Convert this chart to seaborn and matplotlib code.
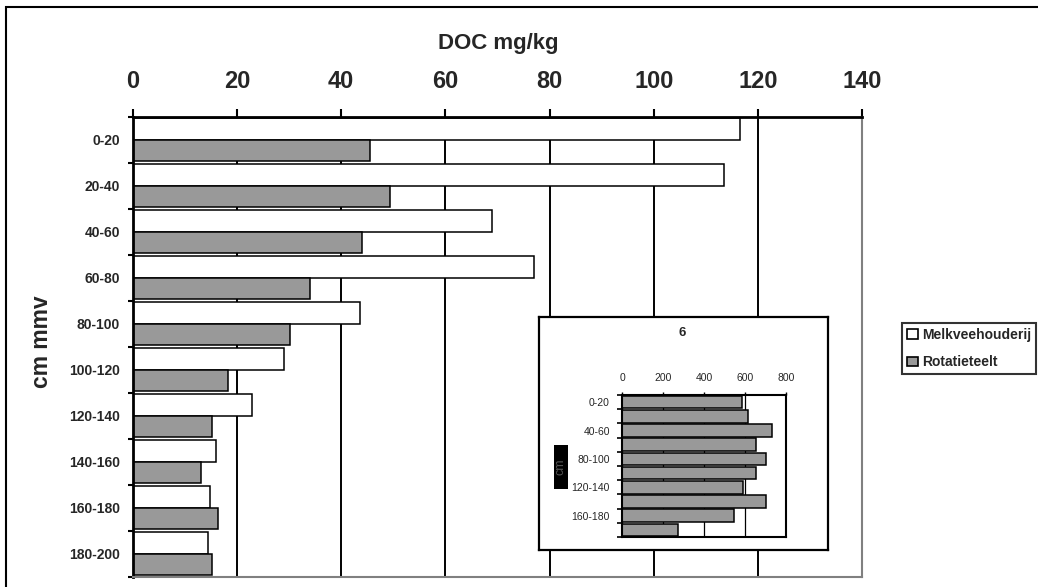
import numpy as np
import pandas as pd
import matplotlib
matplotlib.use("Agg")
import matplotlib.pyplot as plt
import seaborn as sns
from matplotlib.patches import Patch, Rectangle
from matplotlib.ticker import FixedLocator

# --- data -------------------------------------------------------------
depths = ["0-20", "20-40", "40-60", "60-80", "80-100",
          "100-120", "120-140", "140-160", "160-180", "180-200"]
melkveehouderij = [116.5, 113.5, 69.0, 77.0, 43.6, 29.0, 22.9, 16.0, 14.8, 14.4]
rotatieteelt = [45.6, 49.4, 44.0, 34.0, 30.2, 18.2, 15.2, 13.2, 16.3, 15.2]
series_names = ["Melkveehouderij", "Rotatieteelt"]
x_ticks = [0, 20, 40, 60, 80, 100, 120, 140]

inset_title = "6"
inset_values = [583, 614, 733, 653, 704, 653, 591, 704, 546, 272]
inset_ticks = [0, 200, 400, 600, 800]

GRAY = "#999999"
W, H = 1038, 587

sns.set_theme(style="white")
plt.rcParams["font.family"] = ["Liberation Sans", "DejaVu Sans"]

df = pd.DataFrame({
    "Diepte": depths * 2,
    "DOC": melkveehouderij + rotatieteelt,
    "Bedrijf": [series_names[0]] * len(depths) + [series_names[1]] * len(depths),
})

fig = plt.figure(figsize=(W / 100, H / 100), dpi=100)
fig.patch.set_facecolor("white")


def fig_rect(x0, y0, x1, y1):
    """pixel box (top-left origin) -> figure fraction rect"""
    return [x0 / W, 1 - y1 / H, (x1 - x0) / W, (y1 - y0) / H]


# --- main chart -------------------------------------------------------
ax = fig.add_axes(fig_rect(132.7, 116.7, 862.3, 576.7))
sns.barplot(data=df, x="DOC", y="Diepte", hue="Bedrijf", order=depths,
            hue_order=series_names,
            palette={series_names[0]: "white", series_names[1]: GRAY},
            edgecolor="black", linewidth=1.1, width=0.94, saturation=1,
            legend=False, ax=ax)
ax.set_xlim(0, 140)
ax.set_ylim(len(depths) - 0.5, -0.5)
ax.set_xlabel("")
ax.set_ylabel("")
ax.set_facecolor("white")
ax.set_axisbelow(True)
ax.grid(axis="x", color="black", linewidth=1.4)
ax.grid(axis="y", visible=False)

ax.xaxis.tick_top()
ax.set_xticks(x_ticks)
ax.set_xticklabels([str(v) for v in x_ticks], fontsize=17, fontweight="bold")
ax.tick_params(axis="x", which="major", top=True, bottom=False, direction="out",
               length=5.8, width=1.5, color="black", pad=11.5)

ax.set_yticks(range(len(depths)))
ax.set_yticklabels(depths, fontsize=10, fontweight="bold")
ax.yaxis.set_minor_locator(FixedLocator(np.arange(-0.5, len(depths), 1)))
ax.tick_params(axis="y", which="major", left=True, length=0, pad=9)
ax.tick_params(axis="y", which="minor", left=True, direction="out",
               length=3.8, width=1.5, color="black")

for side in ("top", "left"):
    ax.spines[side].set_color("black")
    ax.spines[side].set_linewidth(2.0)
for side in ("right", "bottom"):
    ax.spines[side].set_color("#808080")
    ax.spines[side].set_linewidth(1.5)

fig.text(498.7 / W, 1 - 48.5 / H, "DOC mg/kg", ha="center", va="baseline",
         fontsize=16, fontweight="bold")
fig.text(42 / W, 1 - 342 / H, "cm mmv", ha="center", va="center",
         rotation=90, fontsize=16.5, fontweight="bold")

leg = fig.legend(handles=[Patch(facecolor="white", edgecolor="black", linewidth=1.2),
                          Patch(facecolor=GRAY, edgecolor="black", linewidth=1.2)],
                 labels=series_names, loc="upper left",
                 bbox_to_anchor=(902 / W, 1 - 323 / H),
                 frameon=True, fancybox=False, shadow=False,
                 prop={"size": 10, "weight": "bold"},
                 handlelength=0.8, handleheight=0.65, handletextpad=0.3,
                 borderpad=0.35, labelspacing=0.95, borderaxespad=0)
leg.get_frame().set_edgecolor("black")
leg.get_frame().set_linewidth(1.5)

# --- inset chart ------------------------------------------------------
frame = fig.add_axes(fig_rect(539.3, 316.7, 827.7, 550))
frame.set_facecolor("white")
frame.set_xticks([])
frame.set_yticks([])
for s in frame.spines.values():
    s.set_color("black")
    s.set_linewidth(1.6)

fig.text(681.7 / W, 1 - 333 / H, inset_title, ha="center", va="center",
         fontsize=9.5, fontweight="bold")

axi = fig.add_axes(fig_rect(622.3, 395, 786, 537))
sns.barplot(x=inset_values, y=depths, order=depths, color=GRAY,
            edgecolor="black", linewidth=1.1, width=0.9, saturation=1, ax=axi)
axi.set_xlim(0, 800)
axi.set_ylim(len(depths) - 0.5, -0.5)
axi.set_xlabel("")
axi.set_ylabel("")
axi.set_facecolor("white")
axi.set_axisbelow(True)
axi.grid(axis="x", color="black", linewidth=0.9)
axi.grid(axis="y", visible=False)
axi.xaxis.tick_top()
axi.set_xticks(inset_ticks)
axi.set_xticklabels([str(v) for v in inset_ticks], fontsize=7.5)
axi.tick_params(axis="x", top=True, bottom=False, direction="out",
                length=2.5, width=1.0, color="black", pad=6)
axi.set_yticks(range(0, len(depths), 2))
axi.set_yticklabels(depths[::2], fontsize=7.5)
axi.yaxis.set_minor_locator(FixedLocator(np.arange(-0.5, len(depths), 1)))
axi.tick_params(axis="y", which="major", left=True, length=0, pad=9)
axi.tick_params(axis="y", which="minor", left=True, direction="out",
                length=3.6, width=1.2, color="black")
for s in axi.spines.values():
    s.set_color("black")
    s.set_linewidth(1.5)

# truncated inset axis title block
fig.patches.append(Rectangle((554 / W, 1 - 489 / H), 14 / W, 44 / H,
                             transform=fig.transFigure, facecolor="black",
                             edgecolor="none", zorder=5))
fig.text(561 / W, 1 - 467 / H, "cm", ha="center", va="center", rotation=90,
         fontsize=9, color="#555555", zorder=6)

# outer chart border
fig.patches.append(Rectangle((6 / W, -0.1), 1.2, 1 - 7 / H + 0.1,
                             transform=fig.transFigure, fill=False,
                             edgecolor="black", linewidth=1.5, zorder=5))

fig.savefig("out.png", dpi=100, facecolor="white")
